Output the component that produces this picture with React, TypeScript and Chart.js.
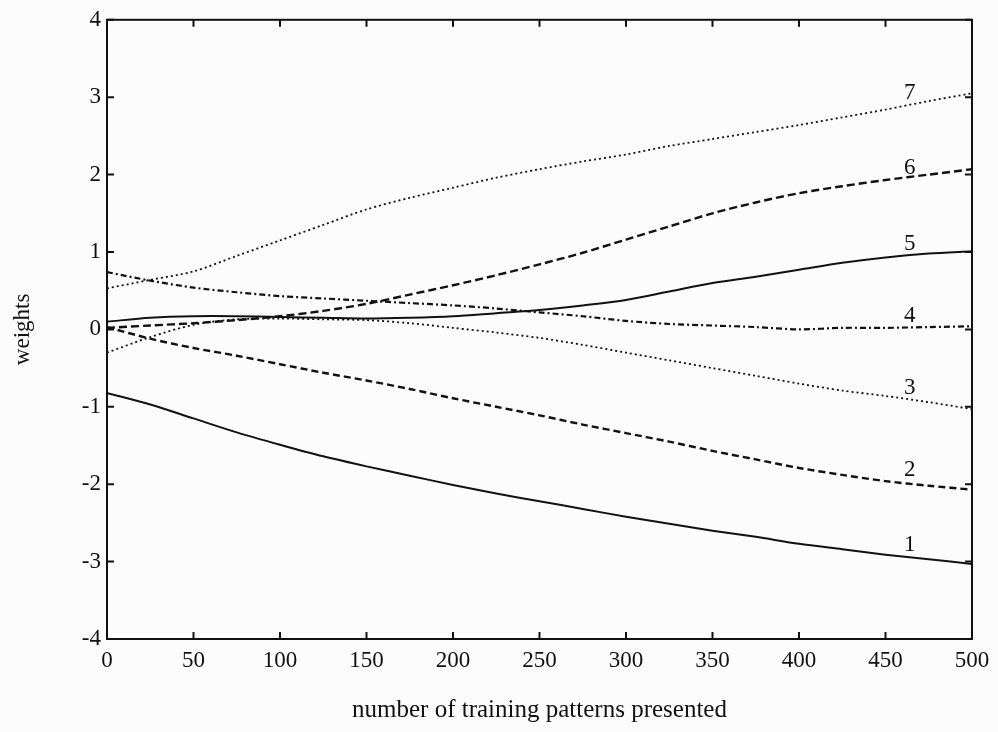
import React, { useEffect, useRef } from "react";
import { Chart, registerables } from "chart.js";

Chart.register(...registerables);

// ---- data ----
const xValues = [0, 25, 50, 75, 100, 125, 150, 175, 200, 225, 250, 275, 300, 325, 350, 375, 400, 425, 450, 475, 500];

const w1 = [-0.82, -0.97, -1.15, -1.33, -1.49, -1.64, -1.77, -1.89, -2.01, -2.12, -2.22, -2.32, -2.42, -2.51, -2.6, -2.68, -2.77, -2.84, -2.91, -2.97, -3.03];
const w2 = [0.03, -0.12, -0.24, -0.34, -0.45, -0.56, -0.66, -0.77, -0.89, -1.0, -1.11, -1.23, -1.34, -1.45, -1.57, -1.68, -1.79, -1.88, -1.96, -2.02, -2.07];
const w3 = [-0.3, -0.1, 0.06, 0.13, 0.14, 0.13, 0.12, 0.08, 0.02, -0.04, -0.11, -0.2, -0.3, -0.4, -0.5, -0.6, -0.7, -0.79, -0.86, -0.94, -1.03];
const w4 = [0.74, 0.63, 0.54, 0.48, 0.43, 0.4, 0.37, 0.34, 0.31, 0.27, 0.22, 0.17, 0.11, 0.07, 0.05, 0.03, 0.0, 0.02, 0.02, 0.03, 0.04];
const w5 = [0.1, 0.15, 0.17, 0.17, 0.16, 0.15, 0.14, 0.15, 0.17, 0.21, 0.25, 0.31, 0.38, 0.49, 0.6, 0.68, 0.77, 0.86, 0.93, 0.98, 1.01];
const w6 = [0.02, 0.05, 0.08, 0.12, 0.17, 0.24, 0.33, 0.45, 0.57, 0.7, 0.84, 0.99, 1.16, 1.33, 1.5, 1.64, 1.76, 1.85, 1.93, 2.0, 2.07];
const w7 = [0.53, 0.64, 0.75, 0.95, 1.15, 1.35, 1.55, 1.7, 1.83, 1.96, 2.07, 2.17, 2.26, 2.37, 2.46, 2.55, 2.64, 2.74, 2.84, 2.95, 3.05];

const curveNames = ["1", "2", "3", "4", "5", "6", "7"];
const labelX = 464;
const labelY = [-2.78, -1.82, -0.76, 0.17, 1.11, 2.09, 3.06];

const xTicks = [0, 50, 100, 150, 200, 250, 300, 350, 400, 450, 500];
const yTicks = [-4, -3, -2, -1, 0, 1, 2, 3, 4];

const xTitle = "number of training patterns presented";
const yTitle = "weights";

const INK = "#111111";
const FONT = "'Liberation Serif', 'DejaVu Serif', serif";

const series = [w1, w2, w3, w4, w5, w6, w7];
const dashes: number[][] = [[], [7, 4], [2, 3], [6, 3, 2, 3], [], [8, 4], [2, 3]];
const widths = [2, 2.4, 1.8, 2.2, 2, 2.4, 1.8];

const framePlugin = {
  id: "frame",
  beforeDraw(chart: any) {
    const { ctx, width, height } = chart;
    ctx.save();
    ctx.fillStyle = "#fcfcfc";
    ctx.fillRect(0, 0, width, height);
    ctx.restore();
  },
  afterDraw(chart: any) {
    const { ctx, chartArea } = chart;
    const { left, right, top, bottom } = chartArea;
    const xs = chart.scales.x;
    const ys = chart.scales.y;
    ctx.save();
    ctx.strokeStyle = INK;
    ctx.lineWidth = 2;
    ctx.setLineDash([]);
    ctx.strokeRect(left, top, right - left, bottom - top);
    const tl = 7;
    ctx.beginPath();
    xTicks.forEach((v) => {
      const px = xs.getPixelForValue(v);
      ctx.moveTo(px, bottom);
      ctx.lineTo(px, bottom - tl);
      ctx.moveTo(px, top);
      ctx.lineTo(px, top + tl);
    });
    yTicks.forEach((v) => {
      const py = ys.getPixelForValue(v);
      ctx.moveTo(left, py);
      ctx.lineTo(left + tl, py);
      ctx.moveTo(right, py);
      ctx.lineTo(right - tl, py);
    });
    ctx.stroke();
    ctx.fillStyle = INK;
    ctx.font = `23px ${FONT}`;
    ctx.textAlign = "center";
    ctx.textBaseline = "middle";
    curveNames.forEach((name, i) => {
      ctx.fillText(name, xs.getPixelForValue(labelX), ys.getPixelForValue(labelY[i]));
    });
    ctx.restore();
  },
};

export default function App() {
  const ref = useRef<HTMLCanvasElement>(null);
  useEffect(() => {
    if (!ref.current) return;
    const chart = new Chart(ref.current, {
      type: "line",
      data: {
        datasets: series.map((s, i) => ({
          label: curveNames[i],
          data: s.map((y, j) => ({ x: xValues[j], y })),
          borderColor: INK,
          borderWidth: widths[i],
          borderDash: dashes[i],
          pointRadius: 0,
          tension: 0.3,
          fill: false,
        })),
      },
      options: {
        animation: false,
        responsive: false,
        devicePixelRatio: 1,
        layout: { padding: { left: 0, top: 17, right: 26, bottom: 0 } },
        plugins: { legend: { display: false }, tooltip: { enabled: false } },
        scales: {
          x: {
            type: "linear",
            min: 0,
            max: 500,
            afterBuildTicks: (scale: any) => {
              scale.ticks = xTicks.map((v) => ({ value: v }));
            },
            afterFit: (scale: any) => {
              scale.height = 93;
            },
            grid: { display: false, drawTicks: false },
            border: { display: false },
            ticks: { color: INK, font: { family: FONT, size: 23 }, padding: 8, maxRotation: 0, autoSkip: false },
            title: { display: true, text: xTitle, color: INK, font: { family: FONT, size: 25 }, padding: { top: 0, bottom: 7 } },
          },
          y: {
            type: "linear",
            min: -4,
            max: 4,
            afterBuildTicks: (scale: any) => {
              scale.ticks = yTicks.map((v) => ({ value: v }));
            },
            afterFit: (scale: any) => {
              scale.width = 107;
            },
            grid: { display: false, drawTicks: false },
            border: { display: false },
            ticks: { color: INK, font: { family: FONT, size: 23 }, padding: 6, autoSkip: false },
            title: { display: true, text: yTitle, color: INK, font: { family: FONT, size: 23 }, padding: { top: 9, bottom: 0 } },
          },
        },
      },
      plugins: [framePlugin],
    });
    return () => chart.destroy();
  }, []);
  return (
    <div style={{ position: "absolute", left: 0, top: 0, width: 998, height: 732 }}>
      <canvas ref={ref} width={998} height={732} />
    </div>
  );
}
